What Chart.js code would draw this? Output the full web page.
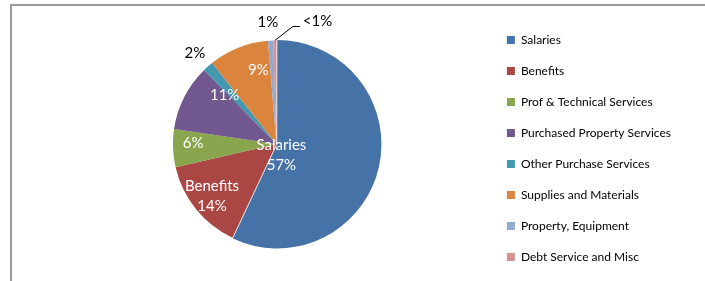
<!DOCTYPE html>
<html>
<head>
<meta charset="utf-8">
<script src="https://cdn.jsdelivr.net/npm/chart.js@4.4.1/dist/chart.umd.min.js"></script>
<style>
  html, body { margin: 0; padding: 0; background: #fff; }
  #wrap { position: relative; width: 705px; height: 281px; overflow: hidden; }
  #frame { position: absolute; left: 10px; top: 4px; width: 700px; height: 290px;
           border-top: 2px solid #9a9a9a; border-left: 2px solid #9a9a9a; box-sizing: border-box; }
  #c { position: absolute; left: 0; top: 0; }
</style>
</head>
<body>
<div id="wrap">
  <div id="frame"></div>
  <canvas id="c" width="705" height="281"></canvas>
</div>
<script>
const categories = ["Salaries", "Benefits", "Prof & Technical Services", "Purchased Property Services",
                    "Other Purchase Services", "Supplies and Materials", "Property, Equipment", "Debt Service and Misc"];
const values = [57, 14.4, 5.9, 10.4, 1.6, 9.4, 0.8, 0.5];
const labelTexts = [["Salaries", "57%"], ["Benefits", "14%"], ["6%"], ["11%"], ["2%"], ["9%"], ["1%"], ["<1%"]];
const colors = ["#4572A7", "#AA4643", "#89A54E", "#71588F", "#4198AF", "#DB843D", "#93A9CF", "#D19392"];

// label placement: radius fraction, angle shift (deg), colour, leader
const labelPlacement = [
  { f: 0.12, shift: 54, color: "#ffffff" },
  { f: 0.80, shift: 0, color: "#ffffff" },
  { f: 0.805, shift: 2.7, color: "#ffffff" },
  { f: 0.69, shift: 16.5, color: "#ffffff" },
  { f: 1.18, shift: -0.5, color: "#000000" },
  { f: 0.73, shift: 7.8, color: "#ffffff" },
  { f: 1.18, shift: -0.8, color: "#000000" },
  { leader: true, color: "#000000" }
];

const labelPlugin = {
  id: 'sliceLabels',
  afterDatasetsDraw(chart) {
    const ctx = chart.ctx;
    const meta = chart.getDatasetMeta(0);
    ctx.save();
    ctx.font = '15px Lato';
    ctx.textBaseline = 'middle';
    meta.data.forEach((arc, i) => {
      const p = labelPlacement[i];
      const lines = labelTexts[i];
      const mid = (arc.startAngle + arc.endAngle) / 2;
      const r = arc.outerRadius;
      ctx.fillStyle = p.color;
      if (p.leader) {
        const x0 = arc.x + Math.cos(mid) * r;
        const y0 = arc.y + Math.sin(mid) * r;
        const x1 = x0 + 18, y1 = y0 - 14;
        const x2 = x1 + 7;
        ctx.strokeStyle = '#000';
        ctx.lineWidth = 1;
        ctx.beginPath();
        ctx.moveTo(x0, y0); ctx.lineTo(x1, y1); ctx.lineTo(x2, y1);
        ctx.stroke();
        ctx.textAlign = 'left';
        ctx.fillText(lines[0], x2 + 3, y1 - 5);
        return;
      }
      const a = mid + p.shift * Math.PI / 180;
      const cx = arc.x + Math.cos(a) * r * p.f;
      const cy = arc.y + Math.sin(a) * r * p.f;
      const lh = 20;
      ctx.textAlign = 'center';
      lines.forEach((t, k) => {
        ctx.fillText(t, cx, cy + (k - (lines.length - 1) / 2) * lh);
      });
    });
    ctx.restore();
  }
};

new Chart(document.getElementById('c'), {
  type: 'pie',
  data: {
    labels: categories,
    datasets: [{
      data: values,
      backgroundColor: colors,
      borderWidth: 0,
      radius: 103.5,
      offset: [3, 0, 0, 0, 0, 0, 0, 0]
    }]
  },
  options: {
    responsive: false,
    animation: false,
    layout: { padding: { left: 65, top: 7, bottom: -2, right: 24 } },
    plugins: {
      tooltip: { enabled: false },
      legend: {
        position: 'right',
        title: { display: true, text: '', font: { size: 1, lineHeight: 1 }, padding: { top: 3, bottom: 3 } },
        labels: {
          boxWidth: 8, boxHeight: 8, padding: 19,
          color: '#000',
          font: { family: 'Lato', size: 12 }
        }
      }
    }
  },
  plugins: [labelPlugin]
});
</script>
</body>
</html>
